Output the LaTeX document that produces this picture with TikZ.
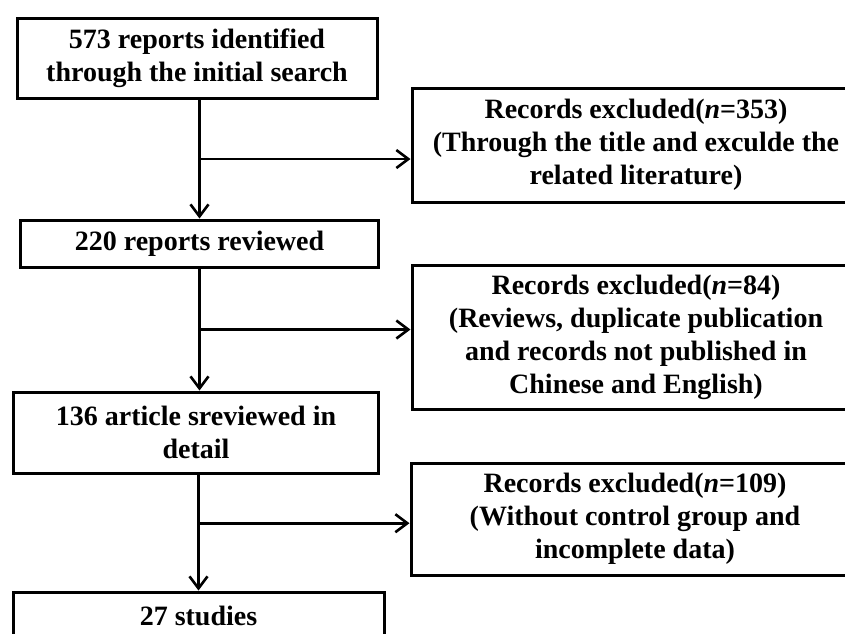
\documentclass[tikz,border=0pt]{standalone}
\usepackage{fontspec}
\setmainfont{Liberation Serif}
\usetikzlibrary{arrows.meta, positioning, calc}
\tikzset{
  caja/.style={rectangle, draw=black, line width=3pt, text centered, align=center,
               font=\fontsize{28}{33}\selectfont\bfseries, inner sep=2pt},
  excluido/.style={caja, minimum width=448pt},
  arrow/.style={line width=2.6pt, -{Straight Barb[length=12pt, width=18pt, line width=2.6pt]}}
}

\begin{document}
\begin{tikzpicture}[x=1pt, y=-1pt]
  \clip (0,0) rectangle (845,633);
  \fill[white] (0,0) rectangle (845,633);
  \node (r573) [caja, minimum width=360pt, minimum height=80pt] at (197,58) {573 reports identified\\ through the initial search};
  \node (r220) [caja, minimum width=358pt, minimum height=47pt] at (199.5,243.5) {220 reports reviewed};
  \node (r136) [caja, minimum width=365pt, minimum height=81pt] at (196,432.5) {136 article sreviewed in\\ detail};
  \node (r27) [caja, minimum width=371pt, minimum height=47pt] at (198.5,615.5) {27 studies};
  \node (x353) [excluido, minimum height=114pt] at (636,145) {Records excluded(\textit{n}=353)\\ (Through the title and exculde the\\ related literature)};
  \node (x84) [excluido, minimum height=144pt] at (636,337) {Records excluded(\textit{n}=84)\\ (Reviews, duplicate publication\\ and records not published in\\ Chinese and English)};
  \node (x109) [excluido, minimum height=112pt] at (635,519) {Records excluded(\textit{n}=109)\\ (Without control group and\\ incomplete data)};
  \coordinate (b1) at ($(r573.south)!0.5!(r220.north)$);
  \coordinate (b2) at ($(r220.south)!0.5!(r136.north)$);
  \coordinate (b3) at ($(r136.south)!0.42!(r27.north)$);
  \draw [arrow] (r573.south -| r220.north) -- (r220.north); \draw [arrow] (b1 -| r220.north) -- (b1 -| x353.west);
  \draw [arrow] (r220.south) -- (r220.south |- r136.north); \draw [arrow] (b2 -| r220.south) -- (b2 -| x84.west);
  \draw [arrow] (r136.south -| r27.north) -- (r27.north); \draw [arrow] (b3 -| r27.north) -- (b3 -| x109.west);
\end{tikzpicture}
\end{document}
